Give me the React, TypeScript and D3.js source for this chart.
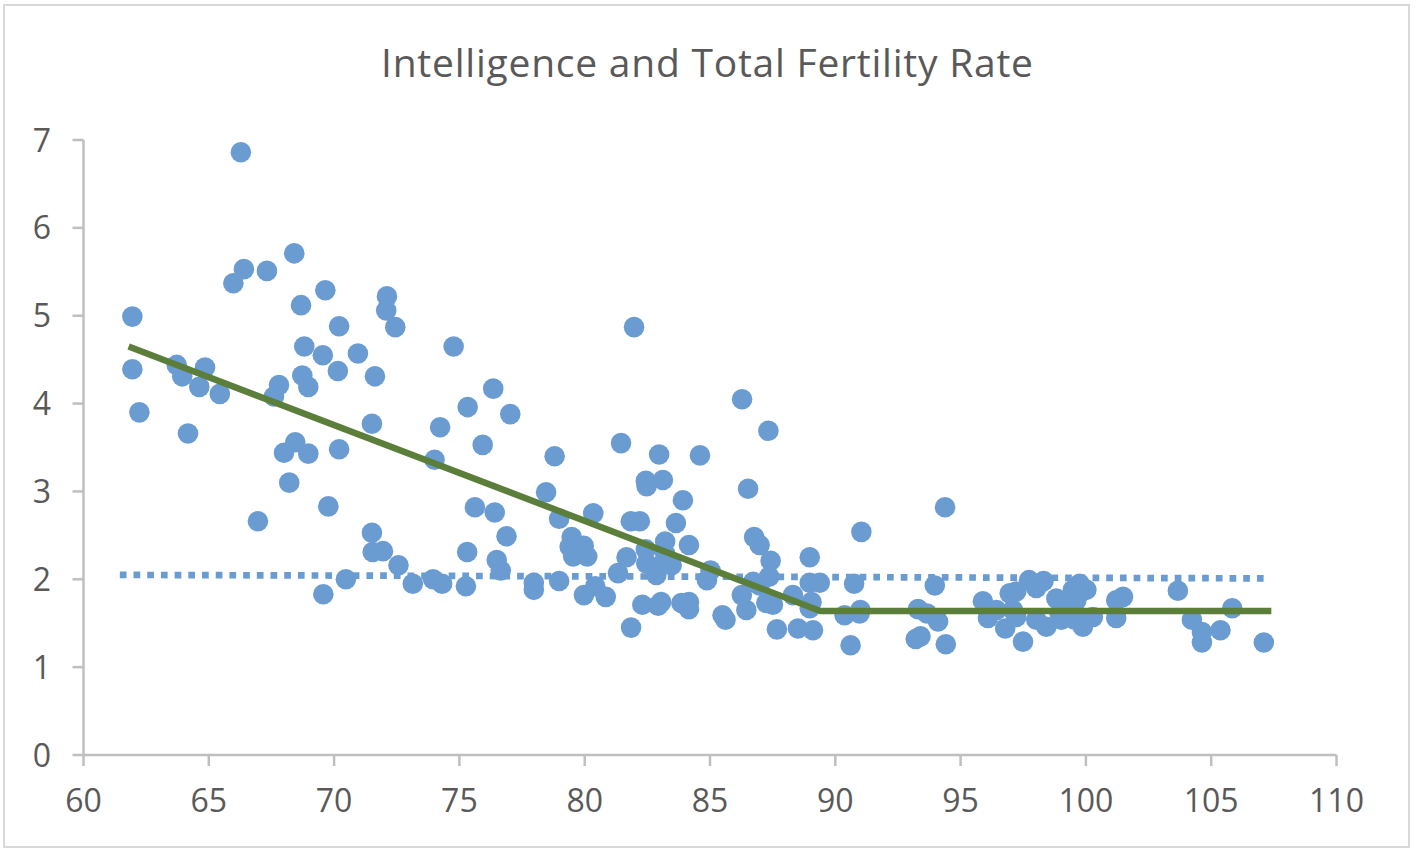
import * as d3 from "d3";

// IQ (x) and total fertility rate (y), one pair per country
const iq = [
  66.28, 61.95, 61.95, 62.23, 64.17, 65.98, 66.4, 67.32, 68.41, 69.65,
  68.68, 70.2, 72.11, 72.08, 72.44, 68.81, 69.55, 70.95, 74.77, 70.15,
  68.73, 68.97, 71.63, 63.72, 63.94, 64.85, 64.62, 65.44, 67.8, 67.6,
  75.33, 74.23, 71.51, 74.01, 75.93, 68.0, 68.45, 68.97, 70.2, 68.21,
  75.62, 66.96, 69.77, 71.51, 71.54, 71.95, 72.57, 70.47, 69.57, 73.14,
  73.95, 74.31, 75.31, 75.26, 81.97, 76.35, 77.03, 78.8, 86.28, 87.33,
  81.45, 82.97, 84.6, 82.44, 82.47, 83.12, 83.92, 86.52, 78.46, 76.41,
  76.88, 76.49, 76.65, 77.97, 77.97, 78.98, 78.98, 80.34, 81.84, 82.2,
  83.64, 79.48, 79.4, 79.96, 79.54, 80.1, 83.21, 83.21, 84.16, 82.44,
  81.67, 82.46, 82.86, 83.47, 82.86, 81.33, 79.97, 80.84, 80.42, 82.3,
  83.05, 82.93, 81.85, 83.86, 84.16, 84.16, 85.02, 84.88, 85.5, 85.62,
  86.45, 86.27, 86.76, 86.98, 87.42, 87.36, 86.72, 86.98, 87.25, 87.51,
  87.67, 88.31, 88.98, 88.98, 89.38, 89.05, 88.98, 88.51, 89.11, 91.04,
  90.75, 90.37, 90.97, 90.61, 91.0, 94.38, 93.97, 93.3, 93.66, 94.1,
  93.21, 93.4, 94.41, 95.89, 96.09, 96.78, 96.96, 97.22, 96.43, 97.09,
  97.22, 97.49, 97.73, 98.31, 98.02, 98.02, 98.42, 98.82, 98.95, 99.02,
  99.48, 99.75, 100.02, 99.62, 99.55, 99.88, 99.35, 100.28, 101.21, 101.48,
  101.21, 103.67, 104.23, 104.63, 104.63, 105.37, 105.84, 107.1,
];

const tfr = [
  6.86, 4.99, 4.39, 3.9, 3.66, 5.37, 5.53, 5.51, 5.71, 5.29,
  5.12, 4.88, 5.22, 5.06, 4.87, 4.65, 4.55, 4.57, 4.65, 4.37,
  4.32, 4.19, 4.31, 4.44, 4.31, 4.41, 4.19, 4.11, 4.21, 4.08,
  3.96, 3.73, 3.77, 3.36, 3.53, 3.44, 3.56, 3.43, 3.48, 3.1,
  2.82, 2.66, 2.83, 2.53, 2.31, 2.32, 2.16, 2.0, 1.83, 1.95,
  2.0, 1.95, 2.31, 1.92, 4.87, 4.17, 3.88, 3.4, 4.05, 3.69,
  3.55, 3.42, 3.41, 3.12, 3.06, 3.13, 2.9, 3.03, 2.99, 2.76,
  2.49, 2.22, 2.1, 1.96, 1.88, 1.98, 2.69, 2.75, 2.66, 2.66,
  2.64, 2.48, 2.37, 2.38, 2.26, 2.26, 2.43, 2.29, 2.39, 2.34,
  2.25, 2.18, 2.14, 2.16, 2.05, 2.07, 1.82, 1.8, 1.92, 1.71,
  1.74, 1.7, 1.45, 1.73, 1.66, 1.74, 2.1, 1.99, 1.59, 1.54,
  1.65, 1.82, 2.48, 2.39, 2.21, 2.03, 1.97, 1.93, 1.73, 1.71,
  1.43, 1.82, 2.25, 1.96, 1.96, 1.74, 1.67, 1.44, 1.42, 2.54,
  1.95, 1.59, 1.61, 1.25, 1.65, 2.82, 1.93, 1.66, 1.61, 1.52,
  1.32, 1.35, 1.26, 1.75, 1.56, 1.44, 1.84, 1.86, 1.65, 1.65,
  1.57, 1.29, 1.99, 1.98, 1.9, 1.54, 1.46, 1.78, 1.61, 1.54,
  1.88, 1.95, 1.88, 1.76, 1.54, 1.46, 1.69, 1.57, 1.76, 1.8,
  1.56, 1.87, 1.54, 1.4, 1.28, 1.42, 1.67, 1.28,
];

// segmented fit (declining, then flat)
const fitX = [61.8, 89.4, 107.4];
const fitY = [4.65, 1.64, 1.64];

// linear trendline
const trendX = [61.45, 107.3];
const trendY = [2.05, 2.01];

const xTicks = [60, 65, 70, 75, 80, 85, 90, 95, 100, 105, 110];
const yTicks = [0, 1, 2, 3, 4, 5, 6, 7];

const W = 1416;
const H = 854;
const font = "'Open Sans', sans-serif";
const textColor = "#595959";
const axisColor = "#bfbfbf";
const dotColor = "#6a9cd2";

export default function App() {
  const x = d3.scaleLinear().domain([60, 110]).range([83.5, 1336.5]);
  const y = d3.scaleLinear().domain([0, 7]).range([755, 140]);

  const line = d3
    .line<[number, number]>()
    .x((d) => x(d[0]))
    .y((d) => y(d[1]));

  const fit = fitX.map((v, i) => [v, fitY[i]] as [number, number]);
  const trend = trendX.map((v, i) => [v, trendY[i]] as [number, number]);

  return (
    <svg
      width={W}
      height={H}
      style={{ position: "absolute", left: 0, top: 0, background: "#fff" }}
      fontFamily={font}
    >
      <rect x={4} y={5} width={1405} height={842} fill="#fff" stroke="#d9d9d9" strokeWidth={2} />

      <text
        x={707}
        y={77}
        textAnchor="middle"
        fontSize={39}
        textLength={652}
        lengthAdjust="spacing"
        fill={textColor}
      >
        Intelligence and Total Fertility Rate
      </text>

      {/* y axis */}
      <line x1={x(60)} x2={x(60)} y1={y(7)} y2={y(0)} stroke={axisColor} strokeWidth={2.5} />
      {yTicks.map((t) => (
        <g key={"y" + t}>
          <line x1={x(60) - 11} x2={x(60)} y1={y(t)} y2={y(t)} stroke={axisColor} strokeWidth={2.5} />
          <text x={51} y={y(t)} dy="0.36em" textAnchor="end" fontSize={32} fill={textColor}>
            {t}
          </text>
        </g>
      ))}

      {/* x axis */}
      <line x1={x(60)} x2={x(110)} y1={y(0)} y2={y(0)} stroke={axisColor} strokeWidth={2.5} />
      {xTicks.map((t) => (
        <g key={"x" + t}>
          <line x1={x(t)} x2={x(t)} y1={y(0)} y2={y(0) + 11} stroke={axisColor} strokeWidth={2.5} />
          <text x={x(t)} y={812} textAnchor="middle" fontSize={32} fill={textColor}>
            {t}
          </text>
        </g>
      ))}

      {iq.map((v, i) => (
        <circle key={i} cx={x(v)} cy={y(tfr[i])} r={10.3} fill={dotColor} />
      ))}

      <path
        d={line(trend) ?? ""}
        fill="none"
        stroke={dotColor}
        strokeWidth={6.7}
        strokeDasharray="6.7,7"
      />
      <path d={line(fit) ?? ""} fill="none" stroke="#5b7f3b" strokeWidth={6.5} />
    </svg>
  );
}
